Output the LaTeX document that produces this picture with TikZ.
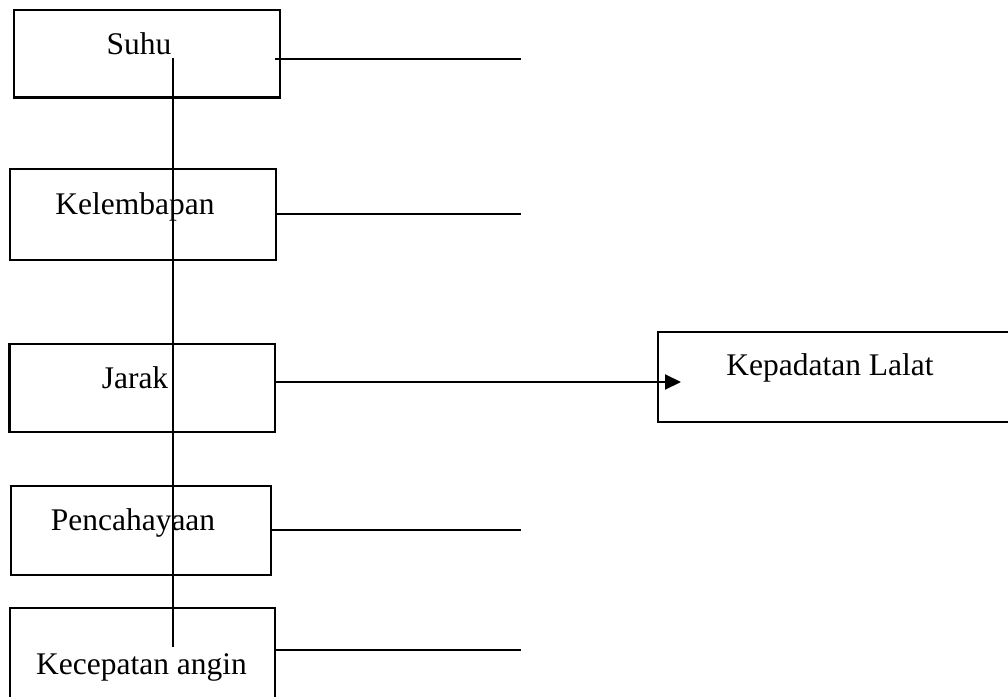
\documentclass[tikz,border=0pt]{standalone}
\usepackage{fontspec}
\setmainfont{Liberation Serif}
\usetikzlibrary{arrows.meta}
\begin{document}
\begin{tikzpicture}[x=1pt,y=-1pt,
  box/.style={draw=black,line width=2.6pt,rectangle,inner sep=0pt},
  lbl/.style={inner sep=0pt,anchor=base,font=\fontsize{31.5}{36}\selectfont},
  conn/.style={draw=black,line width=2pt}]
\useasboundingbox (0,0) rectangle (1008,696);
\clip (0,0) rectangle (1008,696);
% boxes
\node[box,minimum width=266pt,minimum height=87.5pt] (suhu) at (147,53.75) {};
\node[box,minimum width=266pt,minimum height=91pt] (kel) at (143,214.5) {};
\node[box,minimum width=265.5pt,minimum height=88pt] (jarak) at (142.25,388) {};
\node[box,minimum width=260pt,minimum height=89pt] (penc) at (141,530.5) {};
\node[box,minimum width=265pt,minimum height=110pt] (kec) at (142.5,663) {};
\node[box,minimum width=370pt,minimum height=90pt] (kep) at (843,377) {};
% labels
\node[lbl] (tsuhu) at (139,54) {Suhu};
\node[lbl] (tkel) at (135,214) {Kelembapan};
\node[lbl] (tjarak) at (135,388) {Jarak};
\node[lbl] (tpenc) at (133,530) {Pencahayaan};
\node[lbl] (tkec) at (141.5,674) {Kecepatan angin};
\node[lbl] (tkep) at (830,375) {Kepadatan Lalat};
% connectors
\coordinate (e1) at (521,58.5);
\coordinate (e2) at (521,214);
\coordinate (e3) at (681,382);
\coordinate (e4) at (521,530);
\coordinate (e5) at (521,650);
\coordinate (vtop) at (172.5,58);
\coordinate (vbot) at (172.5,647);
\draw[conn] ([xshift=-6pt]suhu.east |- e1) -- (e1);
\draw[conn] ([xshift=-2pt]kel.east |- e2) -- (e2);
\draw[conn,-{Triangle[length=16pt,width=15pt]}] ([xshift=-2pt]jarak.east |- e3) -- (e3);
\draw[conn] (penc.east |- e4) -- (e4);
\draw[conn] ([xshift=-2pt]kec.east |- e5) -- (e5);
\draw[conn] (vtop) -- (vbot);
\end{tikzpicture}
\end{document}
